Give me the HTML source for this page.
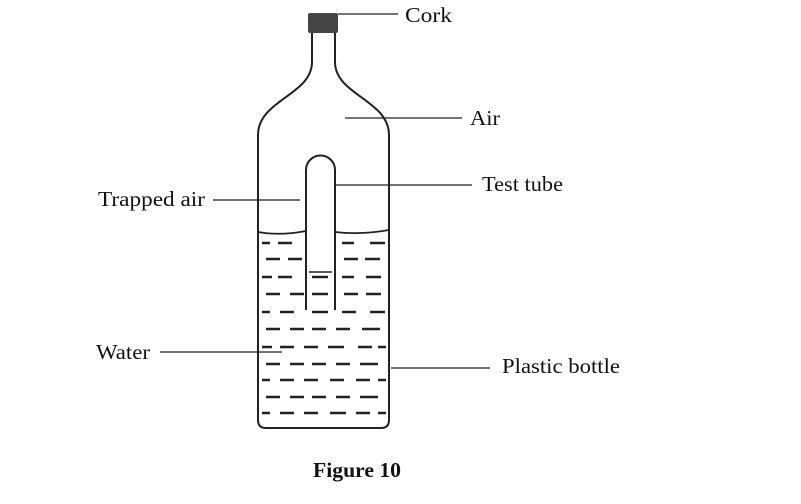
<!DOCTYPE html>
<html><head><style>
html,body{margin:0;padding:0;background:#fff}
svg{display:block}
text{font-family:"Liberation Serif",serif;font-size:21px;fill:#111}
</style></head><body>
<svg width="801" height="504" viewBox="0 0 801 504" xmlns="http://www.w3.org/2000/svg">
<g fill="none" stroke="#222" stroke-width="2">
<path d="M312,33 L312,62 C312,95 258,100 258,135 L258,420 Q258,428 266,428 L381,428 Q389,428 389,420 L389,135 C389,100 335,95 335,62 L335,33"/>
<path d="M306,310 L306,170 A14.5,14.5 0 0 1 335,170 L335,310"/>
<path d="M309,272 L332,272" stroke-width="1.5"/>
<path d="M258,232 Q280,236 306,231 M335,232 Q360,235 389,230" stroke-width="1.8"/>
</g>
<rect x="308" y="13" width="30" height="20" fill="#444" rx="2"/>
<g stroke="#222" stroke-width="2.5">
<path d="M262,243h8 M278,243h14 M342,243h12 M370,243h15
M266,259h14 M288,259h14 M344,259h14 M365,259h15
M262,277h10 M278,277h14 M312,277h16 M342,277h12 M366,277h15
M266,294h14 M290,294h14 M312,294h16 M344,294h14 M366,294h15
M262,312h8 M280,312h14 M312,312h16 M342,312h14 M370,312h15
M266,329h14 M290,329h14 M312,329h14 M336,329h14 M362,329h18
M262,347h10 M280,347h14 M304,347h14 M328,347h16 M358,347h14 M378,347h8
M266,364h14 M290,364h14 M312,364h14 M336,364h14 M360,364h18
M262,380h8 M280,380h14 M304,380h14 M330,380h14 M356,380h14 M378,380h8
M266,397h14 M290,397h14 M312,397h14 M336,397h14 M360,397h18
M262,413h8 M280,413h14 M304,413h14 M330,413h16 M356,413h14 M378,413h8"/>
</g>
<g stroke="#222" stroke-width="1.3">
<line x1="338" y1="14" x2="398" y2="14"/>
<line x1="345" y1="118" x2="462" y2="118"/>
<line x1="336" y1="185" x2="472" y2="185"/>
<line x1="213" y1="200" x2="300" y2="200"/>
<line x1="160" y1="352" x2="282" y2="352"/>
<line x1="391" y1="368" x2="490" y2="368"/>
</g>
<text x="405" y="22" textLength="47" lengthAdjust="spacingAndGlyphs">Cork</text>
<text x="470" y="125" textLength="30" lengthAdjust="spacingAndGlyphs">Air</text>
<text x="482" y="191" textLength="81" lengthAdjust="spacingAndGlyphs">Test tube</text>
<text x="98" y="206" textLength="107" lengthAdjust="spacingAndGlyphs">Trapped air</text>
<text x="96" y="359" textLength="54" lengthAdjust="spacingAndGlyphs">Water</text>
<text x="502" y="373" textLength="118" lengthAdjust="spacingAndGlyphs">Plastic bottle</text>
<text x="313" y="477" style="font-weight:bold" textLength="88" lengthAdjust="spacingAndGlyphs">Figure 10</text>
</svg>
</body></html>
